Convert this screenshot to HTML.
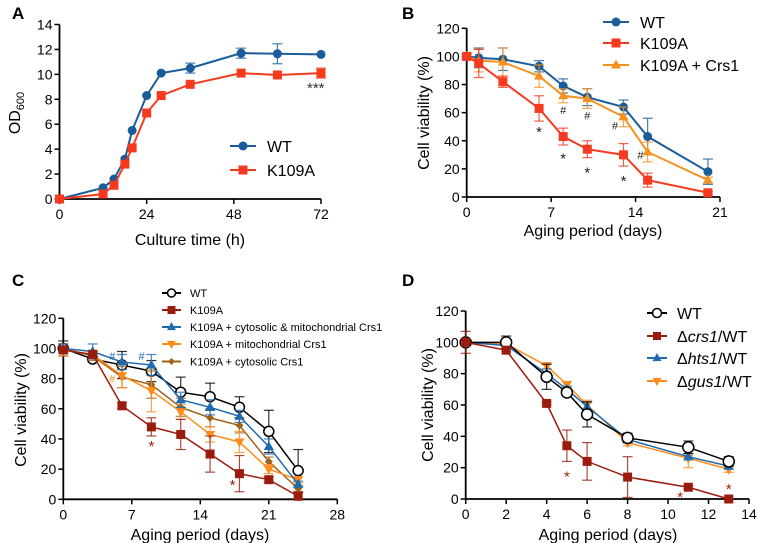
<!DOCTYPE html>
<html><head><meta charset="utf-8"><style>
body{margin:0;background:#fff}
svg{display:block;font-family:"Liberation Sans",sans-serif}
</style></head><body>
<svg id="s" width="781" height="543" viewBox="0 0 781 543"></svg>
<script>
// ---------- Panel A data ----------
const aX=[0,12,15,18,20,24,28,36,50,60,72];
const aWT=[0,0.9,1.6,3.2,5.5,8.3,10.1,10.5,11.7,11.65,11.6];
const aWTe=[0,0,0,0,0,0,0,0.4,0.4,0.8,0];
const aK=[0,0.4,1.1,2.8,4.1,6.9,8.3,9.2,10.1,9.95,10.1];
const aKe=[0,0,0,0,0,0,0,0,0,0,0.4];
const aXticks=[0,24,48,72];
const aYticks=[0,2,4,6,8,10,12,14];
// ---------- Panel B data ----------
const bX=[0,1,3,6,8,10,13,15,20];
const bWT=[100,99,98,93,79,71,64,43,18];
const bWTe=[2,7,8,4,5,6,5,13,9];
const bK=[100,95,82,63,43,34,30,12,3];
const bKe=[2,10,4,9,6,6,8,5,1];
const bC=[100,97,96,86,72,70,57,32,12];
const bCe=[2,8,10,8,5,7,7,7,2];
const bXticks=[0,7,14,21];
const yTicks120=[0,20,40,60,80,100,120];
// ---------- Panel C data ----------
const cX=[0,3,6,9,12,15,18,21,24];
const cWT=[100,93,89,85,71,68,61,45,19];
const cWTe=[5,2,9,7,10,9,7,14,14];
const cK=[99,96,62,48,43,30,17,13,2];
const cKe=[2,2,2,6,10,12,12,2,2];
const cCM=[100,98,91,89,66,61,55,35,10];
const cCMe=[3,5,5,7,5,5,4,5,2];
const cM=[99,96,82,72,58,43,38,20,13];
const cMe=[4,3,8,14,5,5,7,3,2];
const cCy=[100,95,81,76,61,54,49,25,7];
const cCye=[3,3,7,9,6,6,5,3,2];
const cXticks=[0,7,14,21,28];
// ---------- Panel D data ----------
const dX=[0,2,4,5,6,8,11,13];
const dWT=[100,100,78,68,54,39,33,24];
const dWTe=[0,4,8,2,8,3,4,3];
const dK=[100,95,61,34,24,14,7.5,0];
const dKe=[7,1,1,10,12,13,1,0];
const dH=[100,98,80,70,59,38,27,21];
const dHe=[0,2,3,2,3,2,2,2];
const dG=[100,99,85,73,60,36,26,19];
const dGe=[0,2,2,2,3,2,6,2];
const dXticks=[0,2,4,6,8,10,12,14];

const S=document.getElementById('s');
const NS='http://www.w3.org/2000/svg';
function el(t,a,txt){const e=document.createElementNS(NS,t);for(const k in a)e.setAttribute(k,a[k]);if(txt!==undefined)e.textContent=txt;S.appendChild(e);return e;}
function mk(x0,x1,v0,v1){return v=>x0+(v-v0)/(v1-v0)*(x1-x0);}

function axes(X,Y,xt,yt,xmin,xmax,ymin,ymax,fs,name){
  const xa=el('line',{x1:X(xmin),y1:Y(ymin),x2:X(xmax),y2:Y(ymin),stroke:'#000','stroke-width':1.8});
  
  
  const ya=el('line',{x1:X(xmin),y1:Y(ymin),x2:X(xmin),y2:Y(ymax),stroke:'#000','stroke-width':1.8});
  
  
  xt.forEach(v=>{el('line',{x1:X(v),y1:Y(ymin),x2:X(v),y2:Y(ymin)+5,stroke:'#000','stroke-width':1.5});
    const t=el('text',{x:X(v),y:Y(ymin)+20,'text-anchor':'middle','font-size':fs},v);
    
    });
  yt.forEach(v=>{el('line',{x1:X(xmin)-5,y1:Y(v),x2:X(xmin),y2:Y(v),stroke:'#000','stroke-width':1.5});
    const t=el('text',{x:X(xmin)-7,y:Y(v)+5,'text-anchor':'end','font-size':fs},v);
    
    });
}
function marker(type,x,y,c,s){
  if(type==='circle')return el('circle',{cx:x,cy:y,r:s,fill:c});
  if(type==='open')return el('circle',{cx:x,cy:y,r:s,fill:'#fff',stroke:c,'stroke-width':1.5});
  if(type==='square')return el('rect',{x:x-s,y:y-s,width:2*s,height:2*s,fill:c});
  if(type==='tri')return el('polygon',{points:`${x},${y-s*1.1} ${x-s},${y+s*0.7} ${x+s},${y+s*0.7}`,fill:c});
  if(type==='itri')return el('polygon',{points:`${x},${y+s*1.1} ${x-s},${y-s*0.7} ${x+s},${y-s*0.7}`,fill:c});
  if(type==='diamond')return el('polygon',{points:`${x},${y-s} ${x+s},${y} ${x},${y+s} ${x-s},${y}`,fill:c});
}
function series(X,Y,xs,ys,es,c,type,s,name,lw){
  lw=lw||2;
  xs.forEach((x,i)=>{if(es[i]>0){const px=X(x);
    el('line',{x1:px,y1:Y(ys[i]-es[i]),x2:px,y2:Y(ys[i]+es[i]),stroke:c,'stroke-width':1.2,opacity:0.8});
    el('line',{x1:px-5,y1:Y(ys[i]+es[i]),x2:px+5,y2:Y(ys[i]+es[i]),stroke:c,'stroke-width':1.2,opacity:0.8});
    el('line',{x1:px-5,y1:Y(ys[i]-es[i]),x2:px+5,y2:Y(ys[i]-es[i]),stroke:c,'stroke-width':1.2,opacity:0.8});}});
  const p=el('polyline',{points:xs.map((x,i)=>X(x)+','+Y(ys[i])).join(' '),fill:'none',stroke:c,'stroke-width':lw});
  
  
  xs.forEach((x,i)=>{const m=marker(type,X(x),Y(ys[i]),c,s);
    
    });
}
function legend(x1,x2,y,c,type,s,label,fs,tx,name,italic){
  el('line',{x1:x1,y1:y,x2:x2,y2:y,stroke:c,'stroke-width':2});
  marker(type,(x1+x2)/2,y,c,s);
  const t=el('text',{x:tx,y:y+fs*0.36,'font-size':fs});
  
  
  if(italic){const a=document.createElementNS(NS,'tspan');a.textContent='Δ';t.appendChild(a);
    const b=document.createElementNS(NS,'tspan');b.setAttribute('font-style','italic');b.textContent=italic;t.appendChild(b);
    const d=document.createElementNS(NS,'tspan');d.textContent='/WT';t.appendChild(d);}
  else t.textContent=label;
}
function txt(x,y,s,fs,c,name,extra){const t=el('text',Object.assign({x:x,y:y,'font-size':fs,fill:c||'#000'},extra||{}),s);
  
  return t;}

// ===== Panel A =====
{const X=mk(59.5,321,0,72),Y=mk(199,24.5,0,14);
 axes(X,Y,aXticks,aYticks,0,72,0,14,14,'panel-a');
 series(X,Y,aX,aWT,aWTe,'#1a5c99','circle',4.5,'a-wt');
 series(X,Y,aX,aK,aKe,'#f53a1f','square',4.5,'a-k109a');
 txt(12,19,'A',17,'#000','panel-a-letter',{'font-weight':'bold'});
 txt(307,93,'***',15,'#333','a-significance');
 txt(190,245,'Culture time (h)',16,'#000','a-x-axis-title',{'text-anchor':'middle'});
 const t=txt(0,0,'',16,'#000','a-y-axis-title',{transform:'translate(20,113) rotate(-90)','text-anchor':'middle'});
 t.innerHTML='OD<tspan font-size="11" dy="4">600</tspan>';
 legend(230,256,146,'#1a5c99','circle',4.5,'WT',16,267,'a-legend-wt');
 legend(230,256,170,'#f53a1f','square',4.5,'K109A',16,267,'a-legend-k109a');}

// ===== Panel B =====
{const X=mk(466.7,720,0,21),Y=mk(197,28.3,0,120);
 axes(X,Y,bXticks,yTicks120,0,21,0,120,14,'panel-b');
 series(X,Y,bX,bWT,bWTe,'#1a5c99','circle',4.5,'b-wt');
 series(X,Y,bX,bC,bCe,'#f7911f','tri',5,'b-k109a-crs1');
 series(X,Y,bX,bK,bKe,'#f53a1f','square',4.5,'b-k109a');
 txt(402,19,'B',17,'#000','panel-b-letter',{'font-weight':'bold'});
 [[6,47],[8,28],[10,18],[13,12]].forEach(p=>txt(X(p[0]),Y(p[1])+6,'*',15,'#222','b-asterisk',{'text-anchor':'middle'}));
 [[8,62],[10,58],[12.3,51],[14.4,30]].forEach(p=>txt(X(p[0]),Y(p[1])+4,'#',11,'#222','b-hash',{'text-anchor':'middle'}));
 txt(593,236,'Aging period (days)',16,'#000','b-x-axis-title',{'text-anchor':'middle'});
 txt(0,0,'Cell viability (%)',16,'#000','b-y-axis-title',{transform:'translate(429,113) rotate(-90)','text-anchor':'middle'});
 legend(603,629,22,'#1a5c99','circle',4.5,'WT',16,640,'b-legend-wt');
 legend(603,629,43,'#f53a1f','square',4.5,'K109A',16,640,'b-legend-k109a');
 legend(603,629,65,'#f7911f','tri',5,'K109A + Crs1',16,640,'b-legend-k109a-crs1');}

// ===== Panel C =====
{const X=mk(63.3,337.3,0,28),Y=mk(499.3,318.3,0,120);
 axes(X,Y,cXticks,yTicks120,0,28,0,120,14,'panel-c');
 series(X,Y,cX,cWT,cWTe,'#000','open',5,'c-wt',1.5);
 series(X,Y,cX,cCy,cCye,'#a0621a','diamond',4,'c-cytosolic',1.5);
 series(X,Y,cX,cM,cMe,'#ff8c1a','itri',5,'c-mito',1.5);
 series(X,Y,cX,cCM,cCMe,'#1f6bb0','tri',5,'c-cyto-mito',1.5);
 series(X,Y,cX,cK,cKe,'#9b1c0e','square',4.5,'c-k109a',1.5);
 txt(12,286,'C',17,'#000','panel-c-letter',{'font-weight':'bold'});
 txt(X(9),Y(36)+6,'*',15,'#9b1c0e','c-asterisk',{'text-anchor':'middle'});
 txt(X(17.3),Y(10)+6,'*',15,'#9b1c0e','c-asterisk',{'text-anchor':'middle'});
 txt(X(5),Y(95)+4,'#',11,'#1f6bb0','c-hash',{'text-anchor':'middle'});
 txt(X(8),Y(95)+4,'#',11,'#1f6bb0','c-hash',{'text-anchor':'middle'});
 txt(X(5),Y(80)+4,'#',11,'#ff8c1a','c-hash',{'text-anchor':'middle'});
 txt(200,540,'Aging period (days)',16,'#000','c-x-axis-title',{'text-anchor':'middle'});
 txt(0,0,'Cell viability (%)',16,'#000','c-y-axis-title',{transform:'translate(26,410) rotate(-90)','text-anchor':'middle'});
 legend(162,181,293,'#000','open',4,'WT',11,190,'c-legend-wt');
 legend(162,181,310,'#9b1c0e','square',4,'K109A',11,190,'c-legend-k109a');
 legend(162,181,327,'#1f6bb0','tri',4.5,'K109A + cytosolic & mitochondrial Crs1',11,190,'c-legend-cyto-mito');
 legend(162,181,344,'#ff8c1a','itri',4.5,'K109A + mitochondrial Crs1',11,190,'c-legend-mito');
 legend(162,181,361.5,'#a0621a','diamond',3.5,'K109A + cytosolic Crs1',11,190,'c-legend-cytosolic');}

// ===== Panel D =====
{const X=mk(465.7,749,0,14),Y=mk(499,311,0,120);
 axes(X,Y,dXticks,yTicks120,0,14,0,120,14,'panel-d');
 series(X,Y,dX,dG,dGe,'#ff8c1a','itri',5,'d-gus1',1.5);
 series(X,Y,dX,dH,dHe,'#1f6bb0','tri',5,'d-hts1',1.5);
 series(X,Y,dX,dWT,dWTe,'#000','open',5.5,'d-wt',1.5);
 series(X,Y,dX,dK,dKe,'#9b1c0e','square',4.5,'d-crs1',1.5);
 txt(402,286,'D',17,'#000','panel-d-letter',{'font-weight':'bold'});
 [[5,15],[10.6,2],[13,7]].forEach(p=>txt(X(p[0]),Y(p[1])+6,'*',15,'#9b1c0e','d-asterisk',{'text-anchor':'middle'}));
 txt(608,540,'Aging period (days)',16,'#000','d-x-axis-title',{'text-anchor':'middle'});
 txt(0,0,'Cell viability (%)',16,'#000','d-y-axis-title',{transform:'translate(433,405) rotate(-90)','text-anchor':'middle'});
 legend(647,667,313,'#000','open',4.5,'WT',16,677,'d-legend-wt');
 legend(647,667,336,'#9b1c0e','square',4,'',16,677,'d-legend-crs1','crs1');
 legend(647,667,358,'#1f6bb0','tri',4.5,'',16,677,'d-legend-hts1','hts1');
 legend(647,667,381,'#ff8c1a','itri',4.5,'',16,677,'d-legend-gus1','gus1');}
</script>
</body></html>
